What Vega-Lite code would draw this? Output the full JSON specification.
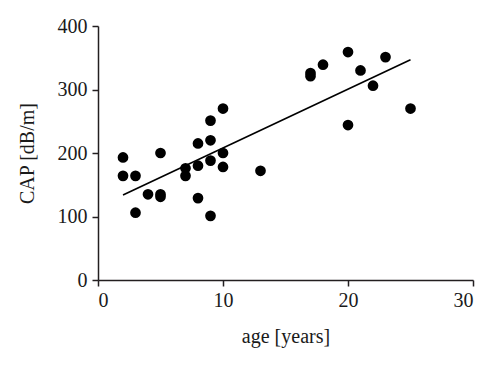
{
  "$schema": "https://vega.github.io/schema/vega-lite/v6.json",
  "autosize": "none",
  "width": 375,
  "height": 254,
  "padding": {"left": 98, "top": 26, "right": 27, "bottom": 88},
  "background": "white",
  "datasets": {
    "pts": [
      {"age": 2, "cap": 193}, {"age": 2, "cap": 164}, {"age": 3, "cap": 164}, {"age": 3, "cap": 106},
      {"age": 4, "cap": 135}, {"age": 5, "cap": 200}, {"age": 5, "cap": 135}, {"age": 5, "cap": 131},
      {"age": 7, "cap": 176}, {"age": 7, "cap": 164}, {"age": 8, "cap": 215}, {"age": 8, "cap": 180},
      {"age": 8, "cap": 129}, {"age": 9, "cap": 251}, {"age": 9, "cap": 220}, {"age": 9, "cap": 188},
      {"age": 9, "cap": 101}, {"age": 10, "cap": 270}, {"age": 10, "cap": 200}, {"age": 10, "cap": 178},
      {"age": 13, "cap": 172}, {"age": 17, "cap": 321}, {"age": 17, "cap": 326}, {"age": 18, "cap": 339},
      {"age": 20, "cap": 359}, {"age": 20, "cap": 244}, {"age": 21, "cap": 330}, {"age": 22, "cap": 306},
      {"age": 23, "cap": 351}, {"age": 25, "cap": 270}
    ],
    "fit": [{"age": 2, "cap": 134}, {"age": 25, "cap": 347}]
  },
  "config": {
    "view": {"stroke": null},
    "axis": {
      "grid": false,
      "domainColor": "#231f20",
      "domainWidth": 1.5,
      "tickColor": "#231f20",
      "tickWidth": 1.5,
      "tickSize": 6,
      "labelFont": "Liberation Serif",
      "labelFontSize": 20,
      "labelColor": "#1a1a1a",
      "titleFont": "Liberation Serif",
      "titleFontSize": 20,
      "titleFontWeight": "normal",
      "titleColor": "#1a1a1a"
    }
  },
  "layer": [
    {
      "data": {"name": "pts"},
      "mark": {"type": "circle", "size": 115, "color": "black", "opacity": 1},
      "encoding": {
        "x": {"field": "age", "type": "quantitative", "scale": {"domain": [0, 30], "nice": false, "zero": false},
              "axis": {"values": [0, 10, 20, 30], "title": "age [years]", "labelPadding": 4, "titlePadding": 16}},
        "y": {"field": "cap", "type": "quantitative", "scale": {"domain": [0, 400], "nice": false},
              "axis": {"values": [0, 100, 200, 300, 400], "title": "CAP [dB/m]", "labelPadding": 5, "titlePadding": 20}}
      }
    },
    {
      "data": {"name": "fit"},
      "mark": {"type": "line", "color": "black", "strokeWidth": 1.6},
      "encoding": {
        "x": {"field": "age", "type": "quantitative"},
        "y": {"field": "cap", "type": "quantitative"}
      }
    }
  ]
}
